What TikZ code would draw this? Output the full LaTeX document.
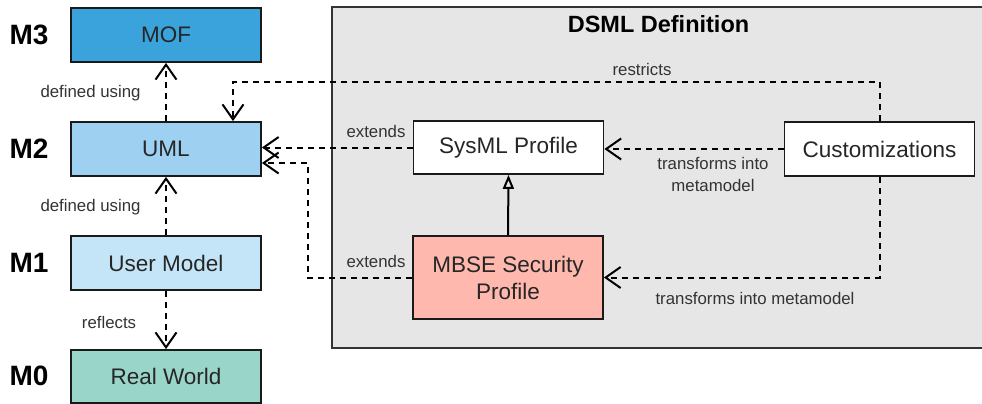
\documentclass[tikz,border=0pt]{standalone}
\usepackage{fontspec}
\setmainfont{Liberation Sans}
\usetikzlibrary{arrows.meta,calc}

\definecolor{mofblue}{HTML}{3BA3DC}
\definecolor{umlblue}{HTML}{9ED1F1}
\definecolor{userblue}{HTML}{C4E5F7}
\definecolor{realteal}{HTML}{9AD5CA}
\definecolor{mbsepink}{HTML}{FFB8AE}
\definecolor{panelgray}{HTML}{E6E6E6}
\definecolor{labelgray}{HTML}{333333}
\definecolor{edgedark}{HTML}{1A1A1A}

\tikzset{
  layerbox/.style={draw=edgedark, line width=1.8pt, minimum width=190pt, minimum height=54pt,
    inner sep=0pt, font=\fontsize{22.5}{27}\selectfont, text=black!85},
  profilebox/.style={layerbox, minimum width=190pt, minimum height=53pt, fill=white},
  levelname/.style={font=\bfseries\fontsize{28}{30}\selectfont, inner sep=0pt},
  edgelabel/.style={font=\fontsize{16.8}{22}\selectfont, text=labelgray, inner sep=0pt, align=center},
  dep/.style={draw=black, line width=2pt, dash pattern=on 6pt off 5pt,
    -{Straight Barb[length=15pt, width=21pt, line width=2pt]}},
  genline/.style={draw=black, line width=2pt,
    -{Triangle[open, length=14pt, width=11pt, line width=2pt]}},
}

\begin{document}
\begin{tikzpicture}[x=1pt, y=-1pt]
  \useasboundingbox (0,0) rectangle (982,404);

  % DSML definition panel, running past the right edge
  \fill[panelgray] (332,7) rectangle (1000,348);
  \draw[draw=black!80, line width=2pt] (1000,7) -- (332,7) -- (332,348) -- (1000,348);
  \node[font=\bfseries\fontsize{23.5}{26}\selectfont, inner sep=0pt] (dsmltitle) at (658.5,24) {DSML Definition};

  % metamodel layers
  \node[layerbox, fill=mofblue]  (mof)  at (166,35)    {MOF};
  \node[layerbox, fill=umlblue]  (uml)  at (166,149)   {UML};
  \node[layerbox, fill=userblue] (user) at (166,263)   {User Model};
  \node[layerbox, fill=realteal, minimum height=53pt] (real) at (166,376.5) {Real World};

  \node[levelname] (m3) at (29,35)  {M3};
  \node[levelname] (m2) at (29,149) {M2};
  \node[levelname] (m1) at (29,263) {M1};
  \node[levelname] (m0) at (29,376) {M0};

  % profiles and customizations
  \node[profilebox] (sysml)  at (508.5,147.5) {SysML Profile};
  \node[profilebox, fill=mbsepink, minimum height=83pt, align=center] (mbse) at (508,277.5) {MBSE Security\\Profile};
  \node[profilebox, minimum height=54pt] (custom) at (879.5,149) {Customizations};

  % layer dependencies
  \draw[dep] (uml.north) -- (mof.south);
  \draw[dep] (user.north) -- (uml.south);
  \draw[dep] (user.south) -- (real.north);
  \node[edgelabel] (lbldef1) at (90.5,93)  {defined using};
  \node[edgelabel] (lbldef2) at (90.5,207) {defined using};
  \node[edgelabel] (lblrefl) at (109,322)  {reflects};

  % profile extensions
  \coordinate (extlower) at ($(uml.east)+(0,14)$);
  \coordinate (extbend)  at (308,277.5);
  \draw[dep] (sysml.west) -- (sysml.west -| uml.east);
  \draw[dep] (mbse.west) -- (extbend) |- (extlower);
  \node[edgelabel] (lblext1) at (376,131.5) {extends};
  \node[edgelabel] (lblext2) at (376,261.5) {extends};

  % generalization
  \draw[genline] (mbse.north) -- (sysml.south);

  % customizations
  \coordinate (restrictbend) at (233,82);
  \draw[dep] (custom.north) |- (restrictbend) -- (restrictbend |- uml.north);
  \node[edgelabel] (lblrestr) at (642,69) {restricts};

  \draw[dep] (custom.west) -- (custom.west -| sysml.east);
  \node[edgelabel] (lbltr1) at (713,174) {transforms into\\metamodel};

  \draw[dep] (custom.south) |- (mbse.east);
  \node[edgelabel] (lbltr2) at (755,298) {transforms into metamodel};
\end{tikzpicture}
\end{document}
